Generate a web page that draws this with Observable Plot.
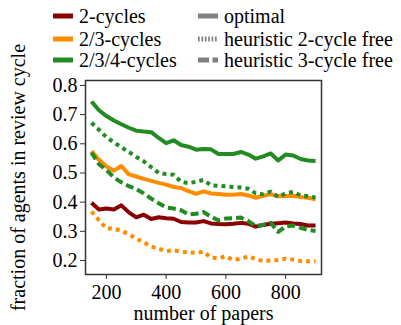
<!DOCTYPE html>
<html><head><meta charset="utf-8">
<script src="https://cdn.jsdelivr.net/npm/d3@7"></script>
<script src="https://cdn.jsdelivr.net/npm/@observablehq/plot@0.6"></script>
<style>
body{margin:0;background:#fff;}
#wrap{position:relative;width:401px;height:325px;font-family:"Liberation Serif","Times New Roman",Times,"DejaVu Serif",serif;overflow:hidden;}
#legend{position:absolute;left:0;top:0;width:401px;height:72px;z-index:2;font-size:20px;color:#000;}
.item{position:absolute;display:flex;align-items:center;height:22px;white-space:nowrap;line-height:22px;}
.item svg{margin-right:6px;display:block;}
#chart{position:absolute;left:0;top:0;}
#chart svg, #chart svg text{font-family:"Liberation Serif","Times New Roman",Times,"DejaVu Serif",serif !important;}
</style></head>
<body><div id="wrap"><div id="chart"></div><div id="legend"></div></div>
<script>
const papers = [150,175,200,225,250,275,300,325,350,375,400,425,450,475,500,525,550,575,600,625,650,675,700,725,750,775,800,825,850,875,900];
const optimal2 = [0.398,0.375,0.378,0.375,0.389,0.365,0.348,0.357,0.342,0.348,0.345,0.343,0.332,0.330,0.330,0.335,0.327,0.325,0.324,0.326,0.329,0.326,0.316,0.322,0.326,0.328,0.330,0.327,0.325,0.320,0.320];
const optimal23 = [0.575,0.545,0.522,0.508,0.524,0.495,0.488,0.480,0.473,0.466,0.460,0.452,0.448,0.438,0.428,0.437,0.430,0.428,0.425,0.425,0.428,0.423,0.415,0.422,0.427,0.420,0.421,0.422,0.418,0.415,0.410];
const heur2free23 = [0.368,0.338,0.310,0.309,0.302,0.290,0.275,0.262,0.248,0.240,0.232,0.235,0.230,0.228,0.226,0.230,0.210,0.208,0.214,0.202,0.206,0.214,0.205,0.198,0.200,0.202,0.206,0.203,0.198,0.197,0.197];
const optimal234 = [0.745,0.715,0.695,0.680,0.667,0.655,0.645,0.642,0.640,0.620,0.602,0.612,0.596,0.590,0.580,0.582,0.581,0.565,0.565,0.565,0.572,0.563,0.549,0.557,0.567,0.543,0.563,0.560,0.548,0.543,0.541];
const heur2free234 = [0.672,0.648,0.623,0.605,0.588,0.572,0.555,0.540,0.520,0.500,0.496,0.494,0.470,0.465,0.470,0.476,0.458,0.456,0.454,0.452,0.450,0.446,0.430,0.427,0.436,0.418,0.430,0.435,0.423,0.420,0.416];
const heur3free234 = [0.570,0.530,0.510,0.485,0.468,0.455,0.445,0.430,0.412,0.396,0.382,0.378,0.372,0.358,0.360,0.366,0.350,0.338,0.344,0.345,0.347,0.335,0.318,0.322,0.329,0.298,0.317,0.320,0.312,0.305,0.301];

const groups = ["2-cycles","2/3-cycles","2/3/4-cycles"];
const groupColors = ["#8b0000","#ff8c00","#228b22"];
const methods = ["optimal","heuristic 2-cycle free","heuristic 3-cycle free"];
const methodDash = [null,"4,4","8,4"];
const xTicks = [200,400,600,800];
const yTicks = [0.2,0.3,0.4,0.5,0.6,0.7,0.8];
const xTitle = "number of papers";
const yTitle = "fraction of agents in review cycle";
const FONT = '"Liberation Serif","Times New Roman",Times,"DejaVu Serif",serif';

const series = [
  {g:0,m:0,values:optimal2},
  {g:1,m:0,values:optimal23},
  {g:1,m:1,values:heur2free23},
  {g:2,m:0,values:optimal234},
  {g:2,m:1,values:heur2free234},
  {g:2,m:2,values:heur3free234}
];

const lineMarks = series.map(s => Plot.line(
  papers.map((p,i)=>({p, v:s.values[i]})),
  {x:"p", y:"v", stroke:groupColors[s.g], strokeWidth:4, strokeDasharray:methodDash[s.m] || undefined, strokeLinecap:"butt", strokeLinejoin:"round"}
));

const chart = Plot.plot({
  width:401, height:325, marginTop:80, marginBottom:51, marginLeft:85, marginRight:80,
  style:{fontFamily:FONT, fontSize:"20px", background:"transparent", color:"#000"},
  x:{domain:[130,920]},
  y:{domain:[0.152,0.817]},
  marks:[
    ...lineMarks,
    Plot.frame({stroke:"#333", strokeWidth:1.5}),
    Plot.axisX({ticks:xTicks, tickSize:5, tickPadding:5, fontSize:20, label:null, stroke:"#333", fill:"#000"}),
    Plot.axisY({ticks:yTicks, tickSize:5, tickPadding:3, tickFormat:d3.format(".1f"), fontSize:20, label:null, stroke:"#333", fill:"#000"}),
    Plot.text([xTitle], {frameAnchor:"bottom", dy:39, lineAnchor:"middle", textAnchor:"middle", fontSize:20, text:d=>d, fill:"#000"}),
    Plot.text([yTitle], {frameAnchor:"left", dx:-67, rotate:-90, textAnchor:"middle", lineAnchor:"middle", fontSize:20, text:d=>d, fill:"#000"})
  ]
});
document.getElementById("chart").appendChild(chart);

// legend
const legend = document.getElementById("legend");
const rowTops = [5,28,49];
function swatch(color, dash){
  const ns="http://www.w3.org/2000/svg";
  const svg=document.createElementNS(ns,"svg");
  svg.setAttribute("width","20"); svg.setAttribute("height","6");
  const l=document.createElementNS(ns,"line");
  l.setAttribute("x1","0"); l.setAttribute("x2","20"); l.setAttribute("y1","3"); l.setAttribute("y2","3");
  l.setAttribute("stroke",color); l.setAttribute("stroke-width","5");
  if (dash) l.setAttribute("stroke-dasharray",dash);
  svg.appendChild(l);
  return svg;
}
groups.forEach((g,i)=>{
  const d=document.createElement("div"); d.className="item";
  d.style.left="53px"; d.style.top=rowTops[i]+"px";
  d.appendChild(swatch(groupColors[i],null));
  const t=document.createElement("span"); t.textContent=g; d.appendChild(t);
  legend.appendChild(d);
});
const legendDash=[null,"1.7,1.7","11,3.5"];
methods.forEach((m,i)=>{
  const d=document.createElement("div"); d.className="item";
  d.style.left="198px"; d.style.top=rowTops[i]+"px";
  d.appendChild(swatch("#808080",legendDash[i]));
  const t=document.createElement("span"); t.textContent=m; d.appendChild(t);
  legend.appendChild(d);
});
</script>
</body></html>
